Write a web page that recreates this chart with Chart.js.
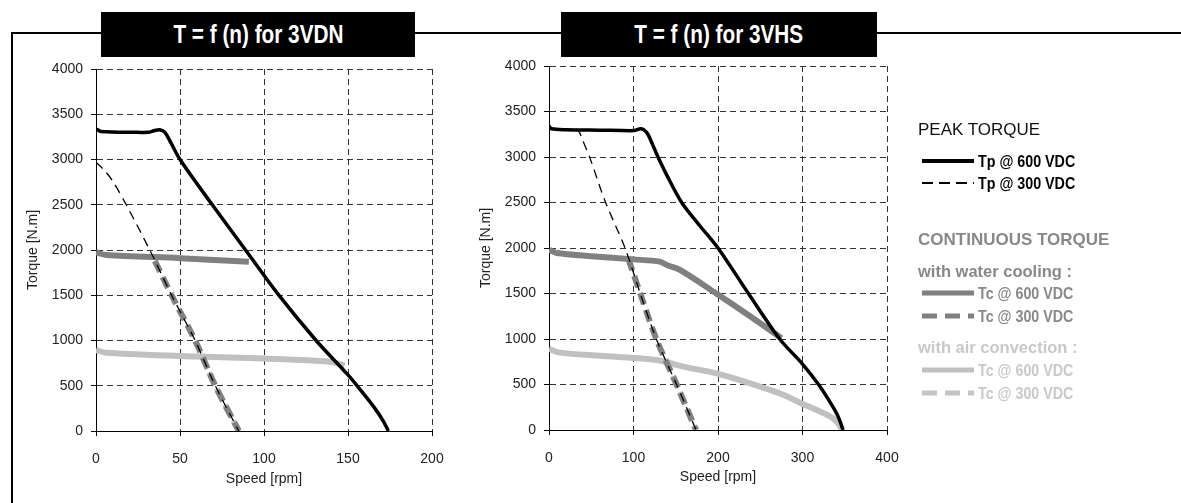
<!DOCTYPE html>
<html>
<head>
<meta charset="utf-8">
<script src="https://cdn.jsdelivr.net/npm/chart.js@4.4.1/dist/chart.umd.min.js"></script>
<style>
  body { margin: 0; width: 1181px; height: 503px; background: #fff; position: relative; overflow: hidden; font-family: "Liberation Sans", Arial, sans-serif; }
  .frame-top { position: absolute; left: 11px; top: 32px; width: 1170px; height: 2px; background: #000; }
  .frame-left { position: absolute; left: 11px; top: 32px; width: 2px; height: 471px; background: #000; }
  .title-box { position: absolute; top: 12px; height: 45px; background: #000; color: #fff; text-align: center; line-height: 45px;
    font-weight: bold; font-size: 25px; }
  .title-box span { display: inline-block; transform: scaleX(0.83); }
  canvas { position: absolute; top: 0; }
  .lg { position: absolute; white-space: nowrap; line-height: 1; }
  .lg svg { position: absolute; }
  .lg span.narrow { display: inline-block; transform: scaleX(0.84); transform-origin: 0 50%; }
</style>
</head>
<body>
<div class="frame-top"></div>
<div class="frame-left"></div>
<canvas id="chartVDN" width="460" height="503" style="left:0"></canvas>
<canvas id="chartVHS" width="470" height="503" style="left:460px"></canvas>
<div class="title-box" style="left:101px;width:314px"><span>T = f (n) for 3VDN</span></div>
<div class="title-box" style="left:561px;width:316px"><span>T = f (n) for 3VHS</span></div>
<div id="legend"></div>

<script>
// 3VDN - speed [rpm] / torque [N.m]
var vdnTp600Speed = [0, 3, 25, 31, 35, 38, 41, 45, 50, 68, 89, 108, 131, 150, 158, 166, 171, 174];
var vdnTp600Torque = [3340, 3310, 3300, 3300, 3320, 3328, 3300, 3170, 3000, 2530, 2000, 1520, 1000, 620, 440, 250, 110, 0];
var vdnTp300Speed = [0, 5, 10, 18, 32, 45, 59, 71, 85];
var vdnTp300Torque = [2970, 2880, 2760, 2500, 2000, 1500, 1000, 500, 0];
var vdnWater600Speed = [0, 6, 50, 91];
var vdnWater600Torque = [1975, 1945, 1910, 1870];
var vdnWater300Speed = [35, 45, 59, 71, 85];
var vdnWater300Torque = [1880, 1500, 1000, 500, 0];
var vdnAir600Speed = [0, 6, 60, 100, 139, 148];
var vdnAir600Torque = [895, 865, 822, 800, 766, 725];
var vdnAir300Speed = [63, 71, 85];
var vdnAir300Torque = [830, 500, 0];

// 3VHS
var hsTp600Speed = [0, 3, 20, 60, 100, 104, 108, 112, 117, 122, 129, 140, 157, 178, 200, 236, 273, 300, 319, 333, 342, 348];
var hsTp600Torque = [3340, 3310, 3300, 3295, 3290, 3300, 3310, 3300, 3250, 3150, 3000, 2790, 2500, 2250, 2000, 1500, 1000, 725, 500, 300, 150, 0];
var hsTp300Speed = [32, 36, 40, 48, 67, 90, 108, 127, 151, 174];
var hsTp300Torque = [3310, 3270, 3180, 3000, 2500, 2000, 1500, 1000, 500, 0];
var hsWater600Speed = [0, 9, 50, 100, 131, 140, 155, 198, 238, 275];
var hsWater600Torque = [1980, 1945, 1910, 1875, 1850, 1810, 1760, 1500, 1250, 1010];
var hsWater300Speed = [94, 108, 127, 151, 174];
var hsWater300Torque = [1880, 1500, 1000, 500, 0];
var hsAir600Speed = [0, 13, 60, 127, 159, 198, 238, 278, 297, 318, 336, 343, 347];
var hsAir600Torque = [891, 850, 815, 770, 697, 623, 513, 385, 300, 215, 130, 60, 0];
var hsAir300Speed = [138, 151, 174];
var hsAir300Torque = [780, 500, 0];

var seriesLabels = ['Tp @ 600 VDC', 'Tp @ 300 VDC', 'Tc @ 600 VDC', 'Tc @ 300 VDC', 'Tc @ 600 VDC', 'Tc @ 300 VDC'];

// line styles, same order as seriesLabels
var styles = [
  { color: '#000', width: 3.5, dash: [] },
  { color: '#000', width: 1.3, dash: [9, 6] },
  { color: '#808080', width: 6, dash: [] },
  { color: '#808080', width: 6, dash: [12, 6] },
  { color: '#c0c0c0', width: 6, dash: [] },
  { color: '#c4c4c4', width: 6, dash: [12, 6] }
];

Chart.defaults.font.family = '"Liberation Sans", Arial, sans-serif';

function pts(xs, ys) {
  return xs.map(function(x, i) { return { x: x, y: ys[i] }; });
}

function makeDatasets(series) {
  return series.map(function(s, i) {
    return {
      label: seriesLabels[i],
      data: pts(s[0], s[1]),
      borderColor: styles[i].color,
      borderWidth: styles[i].width,
      borderDash: styles[i].dash,
      pointRadius: 0,
      fill: false,
      tension: 0.3
    };
  });
}

function makeChart(id, series, xMax, xStep, pad, yWidth, xHeight, yTitlePad, xTitlePad) {
  var tickFont = { size: 14 };
  var plain = function(v) { return String(v); };
  return new Chart(document.getElementById(id), {
    type: 'line',
    data: { datasets: makeDatasets(series) },
    options: {
      responsive: false,
      animation: false,
      layout: { padding: pad },
      plugins: { legend: { display: false }, tooltip: { enabled: false } },
      scales: {
        x: {
          type: 'linear', min: 0, max: xMax,
          ticks: { stepSize: xStep, padding: 15, color: '#222', font: tickFont, callback: plain },
          grid: { color: '#333', tickLength: 5, tickColor: '#000', tickBorderDash: [] },
          border: { color: '#000', width: 1, dash: [6, 4] },
          title: { display: true, text: 'Speed [rpm]', color: '#222', font: tickFont, padding: { top: 0, bottom: xTitlePad } },
          afterFit: function(s) { s.height = xHeight; }
        },
        y: {
          min: 0, max: 4000,
          ticks: { stepSize: 500, padding: 8, color: '#222', font: tickFont, callback: plain },
          grid: { color: '#333', tickLength: 5, tickColor: '#000', tickBorderDash: [] },
          border: { color: '#000', width: 1, dash: [6, 4] },
          title: { display: true, text: 'Torque [N.m]', color: '#222', font: tickFont, padding: { top: yTitlePad, bottom: 0 } },
          afterFit: function(s) { s.width = yWidth; }
        }
      }
    }
  });
}

makeChart('chartVDN', [
  [vdnTp600Speed, vdnTp600Torque],
  [vdnTp300Speed, vdnTp300Torque],
  [vdnWater600Speed, vdnWater600Torque],
  [vdnWater300Speed, vdnWater300Torque],
  [vdnAir600Speed, vdnAir600Torque],
  [vdnAir300Speed, vdnAir300Torque]
], 200, 50, { top: 69, right: 28, left: 0, bottom: 0 }, 96, 72, 25, 15);

makeChart('chartVHS', [
  [hsTp600Speed, hsTp600Torque],
  [hsTp300Speed, hsTp300Torque],
  [hsWater600Speed, hsWater600Torque],
  [hsWater300Speed, hsWater300Torque],
  [hsAir600Speed, hsAir600Torque],
  [hsAir300Speed, hsAir300Torque]
], 400, 100, { top: 66, right: 43, left: 0, bottom: 0 }, 89, 73, 18, 17);

// legend on the right
var legendRows = [
  { text: 'PEAK TORQUE', y: 129, color: '#111', size: 17, weight: 'normal' },
  { series: 0, y: 161 },
  { series: 1, y: 183 },
  { text: 'CONTINUOUS TORQUE', y: 239, color: '#888', size: 17, weight: 'bold' },
  { text: 'with water cooling :', y: 271, color: '#888', size: 16.5, weight: 'bold' },
  { series: 2, y: 293, textColor: '#888' },
  { series: 3, y: 316, textColor: '#888' },
  { text: 'with air convection :', y: 347, color: '#c8c8c8', size: 16.5, weight: 'bold' },
  { series: 4, y: 370, textColor: '#c8c8c8' },
  { series: 5, y: 393, textColor: '#c8c8c8' }
];

var legend = document.getElementById('legend');
legendRows.forEach(function(r) {
  var d = document.createElement('div');
  d.className = 'lg';
  if (r.text) {
    d.textContent = r.text;
    d.style.left = '918px';
    d.style.top = (r.y - r.size / 2) + 'px';
    d.style.fontSize = r.size + 'px';
    d.style.fontWeight = r.weight;
    d.style.color = r.color;
  } else {
    var st = styles[r.series];
    var svg = '<svg width="56" height="10" style="left:-58px;top:3px">' +
      '<line x1="2" y1="5" x2="54" y2="5" stroke="' + st.color + '" stroke-width="' + (st.width === 6 ? 5 : st.width + 0.5) +
      '" stroke-dasharray="' + (st.dash.length ? (r.series === 1 ? '11,6' : '15,8') : 'none') + '"/></svg>';
    d.innerHTML = svg + '<span class="narrow">' + seriesLabels[r.series] + '</span>';
    d.style.left = '978px';
    d.style.top = (r.y - 8) + 'px';
    d.style.fontSize = '17px';
    d.style.fontWeight = 'bold';
    d.style.color = r.textColor || '#000';
  }
  legend.appendChild(d);
});
</script>
</body>
</html>
